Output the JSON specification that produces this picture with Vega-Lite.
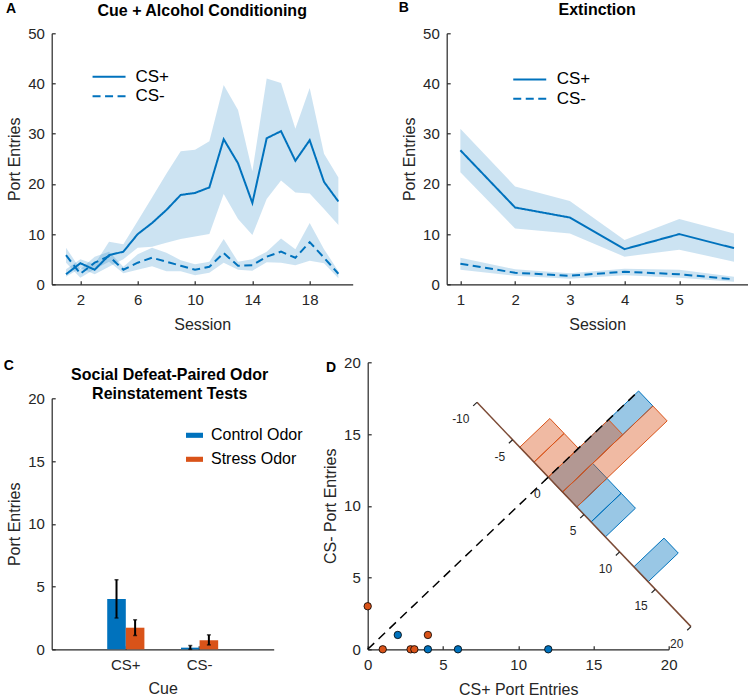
{
  "$schema": "https://vega.github.io/schema/vega-lite/v6.json",
  "padding": {"left": 2.7, "top": 0.3, "right": 0, "bottom": 0},
  "background": "white",
  "config": {
    "font": "Liberation Sans",
    "view": {"stroke": null},
    "axis": {"labelFont": "Liberation Sans", "titleFont": "Liberation Sans", "labelFontSize": 15, "titleFontSize": 16, "titleFontWeight": "normal", "labelColor": "#262626", "titleColor": "#262626", "domainColor": "#262626", "tickColor": "#262626", "domainWidth": 1.2, "tickWidth": 1.2, "tickSize": -3.5, "grid": false, "labelPadding": 10.9, "titlePadding": 5, "labelFlush": false, "labelOverlap": false},
    "axisX": {"labelPadding": 12, "titlePadding": 9, "labelAngle": 0},
    "title": {"font": "Liberation Sans", "fontSize": 16, "fontWeight": "bold", "color": "#000000"},
    "legend": {"labelFont": "Liberation Sans", "labelColor": "#000000", "padding": 0}
  },
  "resolve": {"scale": {"strokeDash": "independent", "color": "independent"}, "legend": {"strokeDash": "independent", "color": "independent"}},
  "bounds": "flush",
  "spacing": 329,
  "vconcat": [
    {
      "bounds": "flush",
      "spacing": 94,
      "resolve": {"scale": {"strokeDash": "independent", "color": "independent"}, "legend": {"strokeDash": "independent", "color": "independent"}},
      "hconcat": [
        {
          "width": 301, "height": 251,
          "title": {"text": "Cue + Alcohol Conditioning", "frame": "group", "anchor": "middle", "baseline": "alphabetic", "offset": -29.5},
          "data": {"values": [
            {"session": 1, "cue": "CS+", "m": 2.0, "lo": 1.5, "hi": 3.0},
            {"session": 2, "cue": "CS+", "m": 4.2, "lo": 3.2, "hi": 5.0},
            {"session": 3, "cue": "CS+", "m": 2.9, "lo": 2.0, "hi": 4.0},
            {"session": 4, "cue": "CS+", "m": 5.8, "lo": 3.5, "hi": 8.5},
            {"session": 5, "cue": "CS+", "m": 6.5, "lo": 5.0, "hi": 8.0},
            {"session": 6, "cue": "CS+", "m": 10.0, "lo": 7.3, "hi": 12.6},
            {"session": 7, "cue": "CS+", "m": 12.2, "lo": 7.5, "hi": 17.3},
            {"session": 8, "cue": "CS+", "m": 14.8, "lo": 8.3, "hi": 22.0},
            {"session": 9, "cue": "CS+", "m": 17.8, "lo": 9.0, "hi": 26.5},
            {"session": 10, "cue": "CS+", "m": 18.2, "lo": 9.5, "hi": 26.8},
            {"session": 11, "cue": "CS+", "m": 19.3, "lo": 10.0, "hi": 28.5},
            {"session": 12, "cue": "CS+", "m": 28.9, "lo": 18.0, "hi": 39.7},
            {"session": 13, "cue": "CS+", "m": 24.1, "lo": 13.0, "hi": 34.7},
            {"session": 14, "cue": "CS+", "m": 16.2, "lo": 9.8, "hi": 22.5},
            {"session": 15, "cue": "CS+", "m": 29.1, "lo": 17.0, "hi": 41.0},
            {"session": 16, "cue": "CS+", "m": 30.5, "lo": 20.7, "hi": 40.1},
            {"session": 17, "cue": "CS+", "m": 24.6, "lo": 18.3, "hi": 31.0},
            {"session": 18, "cue": "CS+", "m": 28.7, "lo": 18.1, "hi": 39.1},
            {"session": 19, "cue": "CS+", "m": 20.4, "lo": 15.0, "hi": 26.0},
            {"session": 20, "cue": "CS+", "m": 16.5, "lo": 11.8, "hi": 21.3},
            {"session": 1, "cue": "CS-", "m": 5.8, "lo": 4.3, "hi": 7.3},
            {"session": 2, "cue": "CS-", "m": 2.1, "lo": 1.3, "hi": 3.0},
            {"session": 3, "cue": "CS-", "m": 4.3, "lo": 3.0, "hi": 5.5},
            {"session": 4, "cue": "CS-", "m": 5.6, "lo": 4.5, "hi": 6.5},
            {"session": 5, "cue": "CS-", "m": 2.9, "lo": 2.2, "hi": 3.5},
            {"session": 6, "cue": "CS-", "m": 4.3, "lo": 2.9, "hi": 6.0},
            {"session": 7, "cue": "CS-", "m": 5.3, "lo": 3.6, "hi": 7.3},
            {"session": 8, "cue": "CS-", "m": 4.5, "lo": 2.6, "hi": 6.3},
            {"session": 9, "cue": "CS-", "m": 3.7, "lo": 2.6, "hi": 4.8},
            {"session": 10, "cue": "CS-", "m": 2.9, "lo": 1.8, "hi": 4.0},
            {"session": 11, "cue": "CS-", "m": 3.5, "lo": 2.3, "hi": 4.5},
            {"session": 12, "cue": "CS-", "m": 6.2, "lo": 4.3, "hi": 9.0},
            {"session": 13, "cue": "CS-", "m": 3.7, "lo": 2.9, "hi": 4.5},
            {"session": 14, "cue": "CS-", "m": 3.8, "lo": 2.7, "hi": 5.0},
            {"session": 15, "cue": "CS-", "m": 5.5, "lo": 4.4, "hi": 6.5},
            {"session": 16, "cue": "CS-", "m": 6.5, "lo": 4.3, "hi": 9.1},
            {"session": 17, "cue": "CS-", "m": 5.3, "lo": 3.8, "hi": 7.0},
            {"session": 18, "cue": "CS-", "m": 8.4, "lo": 4.7, "hi": 12.2},
            {"session": 19, "cue": "CS-", "m": 5.3, "lo": 4.2, "hi": 7.0},
            {"session": 20, "cue": "CS-", "m": 2.1, "lo": 1.2, "hi": 2.6}
          ]},
          "layer": [
            {
              "mark": {"type": "area", "fill": "#0072BD", "fillOpacity": 0.2, "stroke": null},
              "encoding": {
                "x": {"field": "session", "type": "quantitative", "scale": {"domain": [0, 21], "nice": false}, "axis": {"values": [2, 4, 6, 8, 10, 12, 14, 16, 18, 20], "format": "d", "title": "Session"}},
                "y": {"field": "lo", "type": "quantitative", "scale": {"domain": [0, 50], "nice": false}, "axis": {"values": [0, 10, 20, 30, 40, 50], "title": "Port Entries"}},
                "y2": {"field": "hi"},
                "detail": {"field": "cue"}
              }
            },
            {
              "mark": {"type": "line", "stroke": "#0072BD", "strokeWidth": 2},
              "encoding": {
                "x": {"field": "session", "type": "quantitative", "scale": {"domain": [0, 21], "nice": false}, "title": "Session"},
                "y": {"field": "m", "type": "quantitative", "scale": {"domain": [0, 50], "nice": false}, "title": "Port Entries"},
                "strokeDash": {"field": "cue", "type": "nominal", "scale": {"domain": ["CS+", "CS-"], "range": [[1, 0], [8, 4.5]]},
                  "legend": {"orient": "none", "legendX": 47.85, "legendY": 34, "title": null, "symbolType": "M-2,0H2", "symbolSize": 272, "symbolStrokeWidth": 2, "symbolStrokeColor": "#0072BD", "labelFontSize": 17, "labelOffset": 16.95, "rowPadding": 1.4}}
              }
            },
            {
              "data": {"values": [{"t": "A"}]},
              "mark": {"type": "text", "fontWeight": "bold", "fontSize": 14, "align": "left", "baseline": "alphabetic", "color": "#000000"},
              "encoding": {
                "x": {"datum": -3.19, "type": "quantitative", "scale": {"domain": [0, 21], "nice": false}, "title": "Session"},
                "y": {"datum": 54.04, "type": "quantitative", "scale": {"domain": [0, 50], "nice": false}, "title": "Port Entries"},
                "text": {"field": "t"}
              }
            }
          ]
        },
        {
          "width": 301, "height": 251,
          "title": {"text": "Extinction", "frame": "group", "anchor": "middle", "baseline": "alphabetic", "offset": -29.5},
          "data": {"values": [
            {"session": 1, "cue": "CS+", "m": 26.7, "lo": 22.3, "hi": 31.0},
            {"session": 2, "cue": "CS+", "m": 15.3, "lo": 11.1, "hi": 19.5},
            {"session": 3, "cue": "CS+", "m": 13.3, "lo": 10.1, "hi": 16.6},
            {"session": 4, "cue": "CS+", "m": 7.0, "lo": 5.5, "hi": 8.8},
            {"session": 5, "cue": "CS+", "m": 10.0, "lo": 6.9, "hi": 13.0},
            {"session": 6, "cue": "CS+", "m": 7.2, "lo": 4.5, "hi": 10.1},
            {"session": 1, "cue": "CS-", "m": 4.1, "lo": 2.9, "hi": 5.3},
            {"session": 2, "cue": "CS-", "m": 2.3, "lo": 1.7, "hi": 3.0},
            {"session": 3, "cue": "CS-", "m": 1.7, "lo": 1.1, "hi": 2.2},
            {"session": 4, "cue": "CS-", "m": 2.5, "lo": 1.8, "hi": 3.1},
            {"session": 5, "cue": "CS-", "m": 2.0, "lo": 1.3, "hi": 2.9},
            {"session": 6, "cue": "CS-", "m": 1.0, "lo": 0.5, "hi": 1.5}
          ]},
          "layer": [
            {
              "mark": {"type": "area", "fill": "#0072BD", "fillOpacity": 0.2, "stroke": null},
              "encoding": {
                "x": {"field": "session", "type": "quantitative", "scale": {"domain": [0.75, 6.25], "nice": false}, "axis": {"values": [1, 2, 3, 4, 5], "format": "d", "title": "Session"}},
                "y": {"field": "lo", "type": "quantitative", "scale": {"domain": [0, 50], "nice": false}, "axis": {"values": [0, 10, 20, 30, 40, 50], "title": "Port Entries"}},
                "y2": {"field": "hi"},
                "detail": {"field": "cue"}
              }
            },
            {
              "mark": {"type": "line", "stroke": "#0072BD", "strokeWidth": 2},
              "encoding": {
                "x": {"field": "session", "type": "quantitative", "scale": {"domain": [0.75, 6.25], "nice": false}, "title": "Session"},
                "y": {"field": "m", "type": "quantitative", "scale": {"domain": [0, 50], "nice": false}, "title": "Port Entries"},
                "strokeDash": {"field": "cue", "type": "nominal", "scale": {"domain": ["CS+", "CS-"], "range": [[1, 0], [8, 4.5]]},
                  "legend": {"orient": "none", "legendX": 73.55, "legendY": 36.6, "title": null, "symbolType": "M-2,0H2", "symbolSize": 272, "symbolStrokeWidth": 2, "symbolStrokeColor": "#0072BD", "labelFontSize": 17, "labelOffset": 17.4, "rowPadding": 1.4}}
              }
            },
            {
              "data": {"values": [{"t": "B"}]},
              "mark": {"type": "text", "fontWeight": "bold", "fontSize": 14, "align": "left", "baseline": "alphabetic", "color": "#000000"},
              "encoding": {
                "x": {"datum": -0.127, "type": "quantitative", "scale": {"domain": [0.75, 6.25], "nice": false}, "title": "Session"},
                "y": {"datum": 54.19, "type": "quantitative", "scale": {"domain": [0, 50], "nice": false}, "title": "Port Entries"},
                "text": {"field": "t"}
              }
            }
          ]
        }
      ]
    },
    {
      "bounds": "flush",
      "spacing": 316,
      "resolve": {"scale": {"strokeDash": "independent", "color": "independent"}, "legend": {"strokeDash": "independent", "color": "independent"}},
      "hconcat": [
        {
          "bounds": "flush",
          "spacing": 0,
          "resolve": {"scale": {"color": "independent"}, "legend": {"color": "independent"}},
          "vconcat": [
            {"width": 222, "height": 36, "data": {"values": []}, "mark": "point"},
            {
              "width": 222, "height": 251,
              "title": {"text": ["Social Defeat-Paired Odor", "Reinstatement Tests"], "frame": "group", "anchor": "middle", "baseline": "alphabetic", "offset": -24, "dx": 7, "lineHeight": 19.3},
              "data": {"values": [
                {"cue": "CS+", "odor": "Control Odor", "m": 4.0, "lo": 2.5, "hi": 5.55},
                {"cue": "CS+", "odor": "Stress Odor", "m": 1.72, "lo": 1.1, "hi": 2.35},
                {"cue": "CS-", "odor": "Control Odor", "m": 0.13, "lo": 0.0, "hi": 0.3},
                {"cue": "CS-", "odor": "Stress Odor", "m": 0.72, "lo": 0.35, "hi": 1.15}
              ]},
              "encoding": {
                "x": {"field": "cue", "type": "nominal", "scale": {"domain": ["CS+", "CS-"], "paddingInner": 0.496, "paddingOuter": 0.7525}, "axis": {"title": "Cue", "labelAngle": 0, "titlePadding": 7.5}},
                "xOffset": {"field": "odor", "type": "nominal", "scale": {"domain": ["Control Odor", "Stress Odor"], "paddingInner": 0, "paddingOuter": 0}}
              },
              "layer": [
                {
                  "mark": {"type": "bar"},
                  "encoding": {
                    "y": {"field": "m", "type": "quantitative", "scale": {"domain": [0, 20], "nice": false}, "axis": {"values": [0, 5, 10, 15, 20], "title": "Port Entries"}},
                    "color": {"field": "odor", "type": "nominal", "scale": {"domain": ["Control Odor", "Stress Odor"], "range": ["#0072BD", "#D95319"]},
                      "legend": {"orient": "none", "legendX": 134.3, "legendY": 28.5, "title": null, "symbolType": "M-1,-0.3H1V0.3H-1Z", "symbolSize": 289, "symbolStrokeWidth": 0, "labelFontSize": 16, "labelOffset": 8, "rowPadding": 7}}
                  }
                },
                {
                  "mark": {"type": "rule", "color": "#000000", "strokeWidth": 2},
                  "encoding": {
                    "y": {"field": "lo", "type": "quantitative", "scale": {"domain": [0, 20], "nice": false}, "title": "Port Entries"},
                    "y2": {"field": "hi"}
                  }
                },
                {
                  "mark": {"type": "tick", "color": "#000000", "size": 4, "thickness": 1.5},
                  "encoding": {"y": {"field": "lo", "type": "quantitative", "scale": {"domain": [0, 20], "nice": false}, "title": "Port Entries"}}
                },
                {
                  "mark": {"type": "tick", "color": "#000000", "size": 4, "thickness": 1.5},
                  "encoding": {"y": {"field": "hi", "type": "quantitative", "scale": {"domain": [0, 20], "nice": false}, "title": "Port Entries"}}
                }
              ]
            }
          ]
        },
        {
          "width": 301, "height": 287,
          "encoding": {
            "x": {"field": "cx", "type": "quantitative", "scale": {"domain": [0, 20], "nice": false}, "axis": {"values": [0, 5, 10, 15, 20], "title": "CS+ Port Entries", "titlePadding": 8.5}},
            "y": {"field": "cy", "type": "quantitative", "scale": {"domain": [0, 20], "nice": false}, "axis": {"values": [0, 5, 10, 15, 20], "title": "CS- Port Entries"}}
          },
          "layer": [
            {
              "data": {"values": [
                {"bar": "c0", "k": 0, "cx": 12, "cy": 12}, {"bar": "c0", "k": 1, "cx": 12.948, "cy": 10.958}, {"bar": "c0", "k": 2, "cx": 18.948, "cy": 16.958}, {"bar": "c0", "k": 3, "cx": 18, "cy": 18}, {"bar": "c0", "k": 4, "cx": 12, "cy": 12},
                {"bar": "c2", "k": 0, "cx": 12.948, "cy": 10.958}, {"bar": "c2", "k": 1, "cx": 13.896, "cy": 9.916}, {"bar": "c2", "k": 2, "cx": 15.896, "cy": 11.916}, {"bar": "c2", "k": 3, "cx": 14.948, "cy": 12.958}, {"bar": "c2", "k": 4, "cx": 12.948, "cy": 10.958},
                {"bar": "c4", "k": 0, "cx": 13.896, "cy": 9.916}, {"bar": "c4", "k": 1, "cx": 14.844, "cy": 8.874}, {"bar": "c4", "k": 2, "cx": 16.844, "cy": 10.874}, {"bar": "c4", "k": 3, "cx": 15.896, "cy": 11.916}, {"bar": "c4", "k": 4, "cx": 13.896, "cy": 9.916},
                {"bar": "c6", "k": 0, "cx": 14.844, "cy": 8.874}, {"bar": "c6", "k": 1, "cx": 15.792, "cy": 7.832}, {"bar": "c6", "k": 2, "cx": 17.792, "cy": 9.832}, {"bar": "c6", "k": 3, "cx": 16.844, "cy": 10.874}, {"bar": "c6", "k": 4, "cx": 14.844, "cy": 8.874},
                {"bar": "c12", "k": 0, "cx": 17.688, "cy": 5.748}, {"bar": "c12", "k": 1, "cx": 18.636, "cy": 4.706}, {"bar": "c12", "k": 2, "cx": 20.636, "cy": 6.706}, {"bar": "c12", "k": 3, "cx": 19.688, "cy": 7.748}, {"bar": "c12", "k": 4, "cx": 17.688, "cy": 5.748}
              ]},
              "mark": {"type": "line", "fill": "#0072BD", "fillOpacity": 0.4, "stroke": "#0072BD", "strokeWidth": 1},
              "encoding": {"detail": {"field": "bar"}, "order": {"field": "k", "type": "quantitative"}}
            },
            {
              "data": {"values": [
                {"bar": "s-4", "k": 0, "cx": 10.104, "cy": 14.084}, {"bar": "s-4", "k": 1, "cx": 11.052, "cy": 13.042}, {"bar": "s-4", "k": 2, "cx": 13.052, "cy": 15.042}, {"bar": "s-4", "k": 3, "cx": 12.104, "cy": 16.084}, {"bar": "s-4", "k": 4, "cx": 10.104, "cy": 14.084},
                {"bar": "s-2", "k": 0, "cx": 11.052, "cy": 13.042}, {"bar": "s-2", "k": 1, "cx": 12, "cy": 12}, {"bar": "s-2", "k": 2, "cx": 14, "cy": 14}, {"bar": "s-2", "k": 3, "cx": 13.052, "cy": 15.042}, {"bar": "s-2", "k": 4, "cx": 11.052, "cy": 13.042},
                {"bar": "s0", "k": 0, "cx": 12, "cy": 12}, {"bar": "s0", "k": 1, "cx": 12.948, "cy": 10.958}, {"bar": "s0", "k": 2, "cx": 16.948, "cy": 14.958}, {"bar": "s0", "k": 3, "cx": 16, "cy": 16}, {"bar": "s0", "k": 4, "cx": 12, "cy": 12},
                {"bar": "s2", "k": 0, "cx": 12.948, "cy": 10.958}, {"bar": "s2", "k": 1, "cx": 13.896, "cy": 9.916}, {"bar": "s2", "k": 2, "cx": 19.896, "cy": 15.916}, {"bar": "s2", "k": 3, "cx": 18.948, "cy": 16.958}, {"bar": "s2", "k": 4, "cx": 12.948, "cy": 10.958}
              ]},
              "mark": {"type": "line", "fill": "#D95319", "fillOpacity": 0.4, "stroke": "#D95319", "strokeWidth": 1},
              "encoding": {"detail": {"field": "bar"}, "order": {"field": "k", "type": "quantitative"}}
            },
            {
              "data": {"values": [{"cx": 7.26, "cy": 17.21}, {"cx": 21.48, "cy": 1.58}]},
              "mark": {"type": "line", "stroke": "#7B4A35", "strokeWidth": 1.5},
              "encoding": {}
            },
            {
              "data": {"values": [
                {"lab": "-10", "cx": 7.26, "cy": 17.21, "cx2": 7.01, "cy2": 16.96},
                {"lab": "-5", "cx": 9.63, "cy": 14.605, "cx2": 9.38, "cy2": 14.355},
                {"lab": "0", "cx": 12, "cy": 12, "cx2": 11.75, "cy2": 11.75},
                {"lab": "5", "cx": 14.37, "cy": 9.395, "cx2": 14.12, "cy2": 9.145},
                {"lab": "10", "cx": 16.74, "cy": 6.79, "cx2": 16.49, "cy2": 6.54},
                {"lab": "15", "cx": 19.11, "cy": 4.185, "cx2": 18.86, "cy2": 3.935},
                {"lab": "20", "cx": 21.48, "cy": 1.58, "cx2": 21.23, "cy2": 1.33}
              ]},
              "layer": [
                {"mark": {"type": "rule", "color": "#262626", "strokeWidth": 1.2}, "encoding": {"x2": {"field": "cx2"}, "y2": {"field": "cy2"}}},
                {"mark": {"type": "text", "align": "right", "baseline": "middle", "dx": -7.5, "dy": 17, "fontSize": 12, "color": "#262626"}, "encoding": {"text": {"field": "lab"}}}
              ]
            },
            {
              "data": {"values": [{"cx": 0, "cy": 0}, {"cx": 18, "cy": 18}]},
              "mark": {"type": "line", "stroke": "#000000", "strokeWidth": 1.5, "strokeDash": [9, 6]},
              "encoding": {}
            },
            {
              "data": {"values": [
                {"group": "Control Odor", "cx": 2, "cy": 1},
                {"group": "Control Odor", "cx": 4, "cy": 0},
                {"group": "Control Odor", "cx": 6, "cy": 0},
                {"group": "Control Odor", "cx": 12, "cy": 0},
                {"group": "Stress Odor", "cx": 0, "cy": 3},
                {"group": "Stress Odor", "cx": 1, "cy": 0},
                {"group": "Stress Odor", "cx": 2.85, "cy": 0},
                {"group": "Stress Odor", "cx": 3.1, "cy": 0},
                {"group": "Stress Odor", "cx": 4, "cy": 1}
              ]},
              "mark": {"type": "circle", "size": 55, "stroke": "#000000", "strokeWidth": 0.8, "opacity": 1},
              "encoding": {"color": {"field": "group", "type": "nominal", "scale": {"domain": ["Control Odor", "Stress Odor"], "range": ["#0072BD", "#D95319"]}, "legend": null}}
            },
            {
              "data": {"values": [{"t": "C", "cx": -24.19, "cy": 19.48}, {"t": "D", "cx": -2.77, "cy": 19.32}]},
              "mark": {"type": "text", "fontWeight": "bold", "fontSize": 14, "align": "left", "baseline": "alphabetic", "color": "#000000"},
              "encoding": {"text": {"field": "t"}}
            }
          ]
        }
      ]
    }
  ]
}
